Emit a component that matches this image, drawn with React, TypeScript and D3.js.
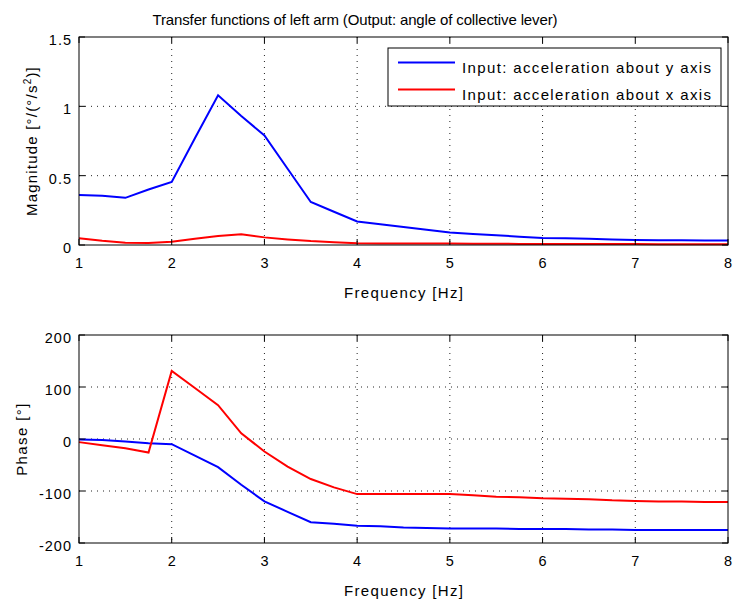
import React from "react";
import * as d3 from "d3";

// frequency grid (Hz)
const freq = [
  1, 1.25, 1.5, 1.75, 2, 2.25, 2.5, 2.75, 3, 3.25, 3.5, 3.75, 4, 4.25, 4.5,
  4.75, 5, 5.25, 5.5, 5.75, 6, 6.25, 6.5, 6.75, 7, 7.25, 7.5, 7.75, 8,
];

// magnitude, input about y axis (blue)
const magY = [
  0.36, 0.355, 0.34, 0.4, 0.455, 0.77, 1.08, 0.93, 0.79, 0.55, 0.31, 0.24,
  0.17, 0.15, 0.13, 0.11, 0.09, 0.08, 0.07, 0.06, 0.05, 0.048, 0.045, 0.04,
  0.036, 0.035, 0.034, 0.033, 0.032,
];
// magnitude, input about x axis (red)
const magX = [
  0.048, 0.03, 0.017, 0.015, 0.024, 0.045, 0.065, 0.077, 0.055, 0.04, 0.028,
  0.02, 0.012, 0.011, 0.01, 0.01, 0.01, 0.009, 0.009, 0.008, 0.008, 0.008,
  0.007, 0.007, 0.007, 0.006, 0.006, 0.006, 0.006,
];
// phase (deg), input about y axis (blue)
const phaseY = [
  -1, -2, -5, -8, -10, -32, -54, -88, -120, -140, -160, -163, -167, -168,
  -170, -171, -172, -172, -172, -173, -173, -173, -174, -174, -175, -175,
  -175, -175, -175,
];
// phase (deg), input about x axis (red)
const phaseX = [
  -6, -12, -18, -26, 131, 98, 65, 11, -24, -53, -77, -93, -106, -106, -106,
  -106, -106, -108, -111, -112, -114, -115, -116, -118, -119, -120, -120,
  -121, -121,
];

const xTicks = [1, 2, 3, 4, 5, 6, 7, 8];
const magTicks = [0, 0.5, 1, 1.5];
const phaseTicks = [-200, -100, 0, 100, 200];

const legendLabels = [
  "Input: acceleration about y axis",
  "Input: acceleration about x axis",
];
const colors = ["#0000ff", "#ff0000"];

const W = 733;
const H = 603;
const left = 79;
const right = 728;
const font = "'Liberation Sans', Arial, Helvetica, sans-serif";

const x = d3.scaleLinear().domain([1, 8]).range([left, right]);

type PanelProps = {
  top: number;
  bottom: number;
  y: d3.ScaleLinear<number, number>;
  ticks: number[];
  series: number[][];
  ylabel: React.ReactNode;
  ylabelX: number;
  ylabelSpacing: number;
};

const Panel = ({ top, bottom, y, ticks, series, ylabel, ylabelX, ylabelSpacing }: PanelProps) => {
  const line = (vals: number[]) =>
    d3
      .line<number>()
      .x((_, i) => x(freq[i]))
      .y((v) => y(v))(vals) || "";
  const tl = 6;
  return (
    <g>
      {/* grid */}
      {xTicks.slice(1, -1).map((t) => (
        <line key={"gx" + t} x1={x(t)} x2={x(t)} y1={top} y2={bottom}
          stroke="#222" strokeWidth={1} strokeDasharray="1 5" />
      ))}
      {ticks.slice(1, -1).map((t) => (
        <line key={"gy" + t} x1={left} x2={right} y1={y(t)} y2={y(t)}
          stroke="#222" strokeWidth={1} strokeDasharray="1 5" />
      ))}
      {/* data */}
      {series.map((s, i) => (
        <path key={i} d={line(s)} fill="none" stroke={colors[i]} strokeWidth={2} />
      ))}
      {/* ticks */}
      {xTicks.map((t) => (
        <g key={"tx" + t}>
          <line x1={x(t)} x2={x(t)} y1={bottom} y2={bottom - tl} stroke="#000" />
          <line x1={x(t)} x2={x(t)} y1={top} y2={top + tl} stroke="#000" />
          <text x={x(t)} y={bottom + 23} textAnchor="middle" fontSize={14.5}>
            {t}
          </text>
        </g>
      ))}
      {ticks.map((t) => (
        <g key={"ty" + t}>
          <line x1={left} x2={left + tl} y1={y(t)} y2={y(t)} stroke="#000" />
          <line x1={right} x2={right - tl} y1={y(t)} y2={y(t)} stroke="#000" />
          <text x={left - 7} y={y(t) + 8} textAnchor="end" fontSize={14.5} letterSpacing={1}>
            {String(t)}
          </text>
        </g>
      ))}
      <rect x={left} y={top} width={right - left} height={bottom - top}
        fill="none" stroke="#000" strokeWidth={1} />
      <text x={(left + right) / 2} y={bottom + 53} textAnchor="middle" fontSize={15}
        textLength={119} lengthAdjust="spacing">
        Frequency [Hz]
      </text>
      <text transform={`translate(${ylabelX},${(top + bottom) / 2}) rotate(-90)`}
        textAnchor="middle" fontSize={15} letterSpacing={ylabelSpacing}>
        {ylabel}
      </text>
    </g>
  );
};

export default function App() {
  const yMag = d3.scaleLinear().domain([0, 1.5]).range([245, 37]);
  const yPh = d3.scaleLinear().domain([-200, 200]).range([543, 335]);
  return (
    <svg width={W} height={H} style={{ position: "absolute", left: 0, top: 0, background: "#fff" }}
      fontFamily={font}>
      <rect width={W} height={H} fill="#fff" />
      <text x={355} y={25} textAnchor="middle" fontSize={15} textLength={405} lengthAdjust="spacing">
        Transfer functions of left arm (Output: angle of collective lever)
      </text>
      <Panel top={37} bottom={245} y={yMag} ticks={magTicks}
        series={[magY, magX]} ylabelX={37} ylabelSpacing={1.2}
        ylabel={<>Magnitude [°/(°/s<tspan fontSize={10} dy={-6}>2</tspan><tspan dy={6}>)]</tspan></>} />
      <Panel top={335} bottom={543} y={yPh} ticks={phaseTicks}
        series={[phaseY, phaseX]} ylabelX={27} ylabelSpacing={1.4}
        ylabel={"Phase [°]"} />
      {/* legend */}
      <g>
        <rect x={388} y={48} width={333} height={58} fill="#fff" stroke="#000" strokeWidth={1} />
        {legendLabels.map((l, i) => (
          <g key={l}>
            <line x1={398} x2={455} y1={62.5 + i * 27} y2={62.5 + i * 27} stroke={colors[i]} strokeWidth={2} />
            <text x={462} y={72.5 + i * 27} fontSize={15} textLength={249} lengthAdjust="spacing">
              {l}
            </text>
          </g>
        ))}
      </g>
    </svg>
  );
}
